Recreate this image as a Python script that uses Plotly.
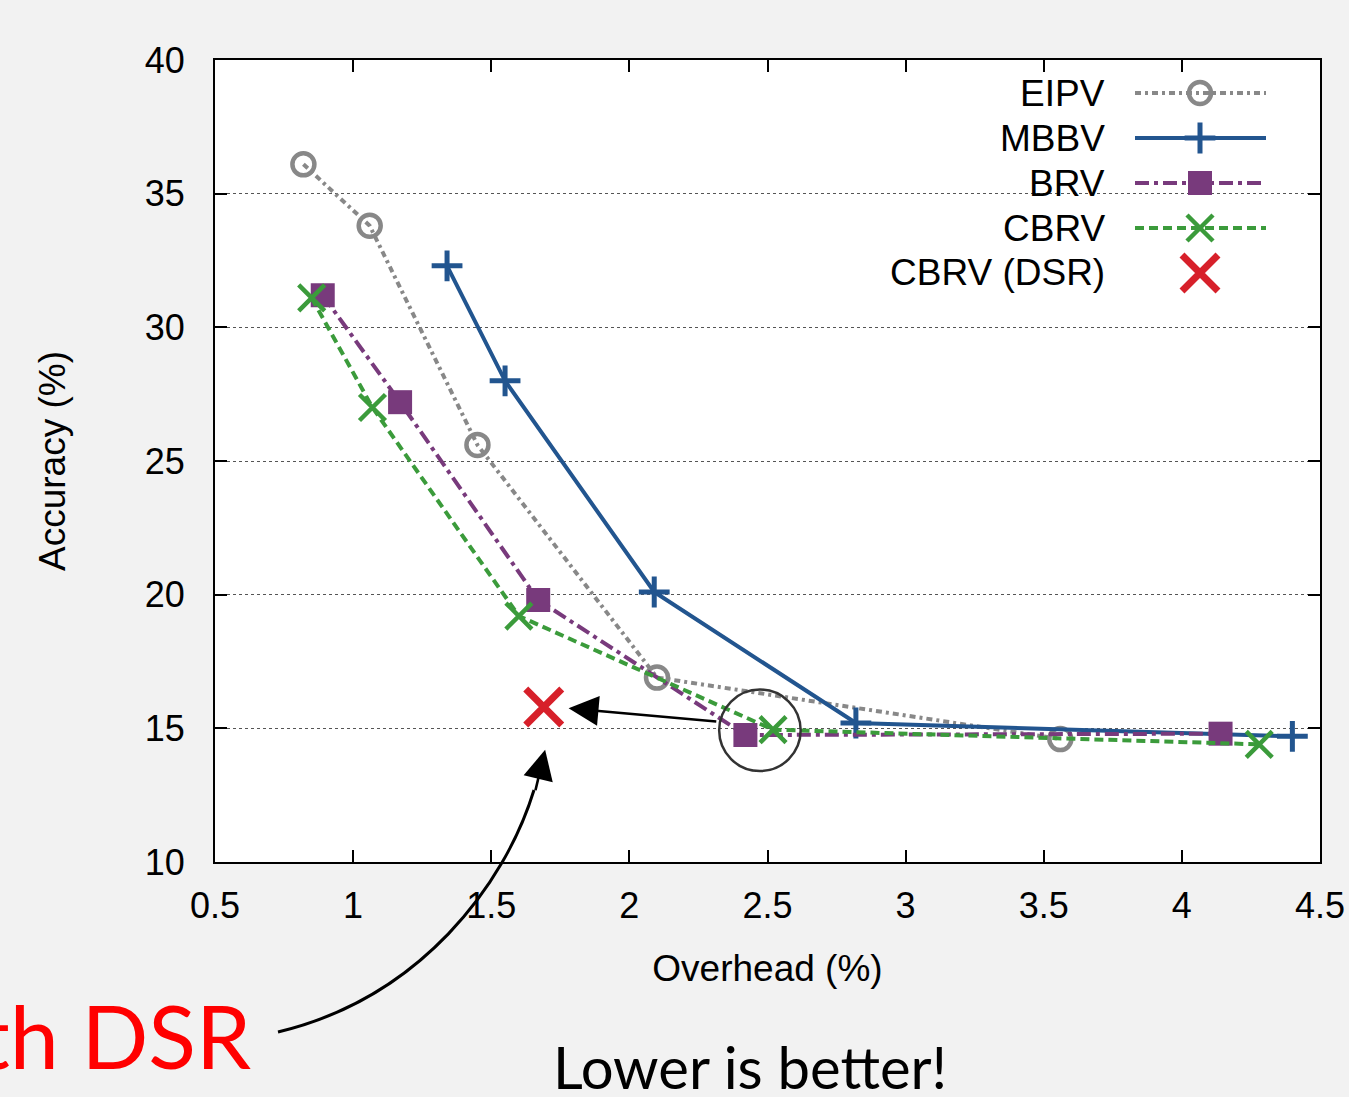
import plotly.graph_objects as go

# ---- data ----
eipv_x = [0.82, 1.06, 1.45, 2.10, 3.56]
eipv_y = [36.1, 33.8, 25.6, 16.9, 14.6]

mbbv_x = [1.34, 1.55, 2.09, 2.82, 4.40]
mbbv_y = [32.3, 28.0, 20.1, 15.2, 14.7]

brv_x = [0.89, 1.17, 1.67, 2.42, 4.14]
brv_y = [31.2, 27.2, 19.8, 14.75, 14.8]

cbrv_x = [0.85, 1.07, 1.60, 2.52, 4.28]
cbrv_y = [31.1, 27.0, 19.2, 14.95, 14.4]

dsr_x = [1.69]
dsr_y = [15.8]

x_ticks = [0.5, 1, 1.5, 2, 2.5, 3, 3.5, 4, 4.5]
x_ticktext = ["0.5", "1", "1.5", "2", "2.5", "3", "3.5", "4", "4.5"]
y_ticks = [10, 15, 20, 25, 30, 35, 40]

names = ["EIPV", "MBBV", "BRV", "CBRV", "CBRV (DSR)"]

# ---- styles ----
GRAY = "#888888"
BLUE = "#22558f"
PURPLE = "#783a7c"
GREEN = "#3b9b3b"
RED = "#d7202a"
FONT = "Liberation Sans"

styles = [
    dict(line=dict(color=GRAY, width=4, dash="6px,4px,3px,4px"),
         marker=dict(symbol="circle-open", size=22, color=GRAY, line=dict(color=GRAY, width=4.5))),
    dict(line=dict(color=BLUE, width=4),
         marker=dict(symbol="cross-thin", size=22, color=BLUE, line=dict(color=BLUE, width=5))),
    dict(line=dict(color=PURPLE, width=4, dash="14px,5px,4px,5px"),
         marker=dict(symbol="square", size=24, color=PURPLE, line=dict(width=0))),
    dict(line=dict(color=GREEN, width=4, dash="9px,5px"),
         marker=dict(symbol="x-thin", size=26, color=GREEN, line=dict(color=GREEN, width=4.5))),
    dict(marker=dict(symbol="x-thin", size=36, color=RED, line=dict(color=RED, width=7))),
]

series = [(eipv_x, eipv_y), (mbbv_x, mbbv_y), (brv_x, brv_y), (cbrv_x, cbrv_y), (dsr_x, dsr_y)]

W, H = 1349, 1097
L, R, T, B = 215, 29, 60, 235
PW, PH = W - L - R, H - T - B


def px(xp):
    return (xp - L) / PW


def py(yp):
    return (H - B - yp) / PH


fig = go.Figure()

for i, ((xs, ys), st) in enumerate(zip(series, styles)):
    mode = "markers" if i == 4 else "lines+markers"
    fig.add_trace(go.Scatter(x=xs, y=ys, mode=mode, name=names[i], showlegend=False,
                             cliponaxis=False, **st))

# ---- manual gnuplot-style legend (text left, sample right) ----
row_y = [93, 138, 183, 228, 273]
for i, st in enumerate(styles):
    yy = py(row_y[i])
    if i < 4:
        fig.add_trace(go.Scatter(x=[px(1135), px(1266)], y=[yy, yy], mode="lines",
                                 line=st["line"], xaxis="x2", yaxis="y2",
                                 showlegend=False, hoverinfo="skip", cliponaxis=False))
    fig.add_trace(go.Scatter(x=[px(1200)], y=[yy], mode="markers", marker=st["marker"],
                             xaxis="x2", yaxis="y2", showlegend=False, hoverinfo="skip",
                             cliponaxis=False))
    fig.add_annotation(x=px(1107), y=yy, xref="paper", yref="paper", text=names[i],
                       showarrow=False, xanchor="right", yanchor="middle",
                       font=dict(family=FONT, size=37, color="black"))

shapes = [
    # legend background covering gridlines
    dict(type="rect", xref="paper", yref="paper", x0=px(835), x1=px(1295), y0=py(300), y1=py(64),
         fillcolor="white", line=dict(width=0), layer="between"),
    # circle around the CBRV point
    dict(type="circle", xref="x", yref="y", x0=2.325, x1=2.62, y0=13.4, y1=16.45,
         line=dict(color="#333333", width=2.5)),
    # curved arrow shaft
    dict(type="path", xref="paper", yref="paper",
         path=f"M {px(278)},{py(1032)} C {px(420)},{py(998)} {px(505)},{py(885)} {px(534)},{py(790)}",
         line=dict(color="black", width=3)),
]

annotations = [
    # straight arrow from circled point to DSR point
    dict(x=1.78, y=15.75, ax=2.32, ay=15.25, xref="x", yref="y", axref="x", ayref="y",
         showarrow=True, arrowhead=2, arrowsize=2.3, arrowwidth=2.6, arrowcolor="black", text=""),
    # arrowhead of the curved arrow
    dict(x=1.695, y=14.2, xref="x", yref="y", ax=-10, ay=42, axref="pixel", ayref="pixel",
         showarrow=True, arrowhead=2, arrowsize=2.3, arrowwidth=2.6, arrowcolor="black", text=""),
    dict(x=px(253), y=py(1035), xref="paper", yref="paper", text="with DSR", showarrow=False,
         xanchor="right", yanchor="middle", font=dict(family="Lato", size=88, color="#ff0000")),
    dict(x=px(750), y=py(1066), xref="paper", yref="paper", text="Lower is better!",
         showarrow=False, xanchor="center", yanchor="middle",
         font=dict(family="Lato", size=58, color="black")),
]

for a in annotations:
    fig.add_annotation(**a)

axis_common = dict(showline=True, linecolor="black", linewidth=2, mirror="ticks",
                   ticks="inside", ticklen=12, tickwidth=2, tickcolor="black",
                   zeroline=False, automargin=False, ticklabeloverflow="allow",
                   tickfont=dict(family=FONT, size=36, color="black"))

fig.update_layout(
    width=W, height=H,
    margin=dict(l=L, r=R, t=T, b=B),
    paper_bgcolor="#f2f2f2", plot_bgcolor="white",
    shapes=shapes,
    xaxis=dict(range=[0.5, 4.5], tickvals=x_ticks, ticktext=x_ticktext, showgrid=False,
               ticklabelstandoff=11,
               title=dict(text="Overhead (%)", font=dict(family=FONT, size=37, color="black"),
                          standoff=30),
               **axis_common),
    yaxis=dict(range=[10, 40], tickvals=y_ticks, showgrid=True, gridcolor="#555555",
               gridwidth=1, griddash="dot", ticklabelstandoff=21,
               title=dict(text="Accuracy (%)", font=dict(family=FONT, size=37, color="black"),
                          standoff=68),
               **axis_common),
    xaxis2=dict(range=[0, 1], overlaying="x", anchor="y2", visible=False),
    yaxis2=dict(range=[0, 1], overlaying="y", anchor="x2", visible=False),
    showlegend=False,
)

fig.write_html("out.html")
